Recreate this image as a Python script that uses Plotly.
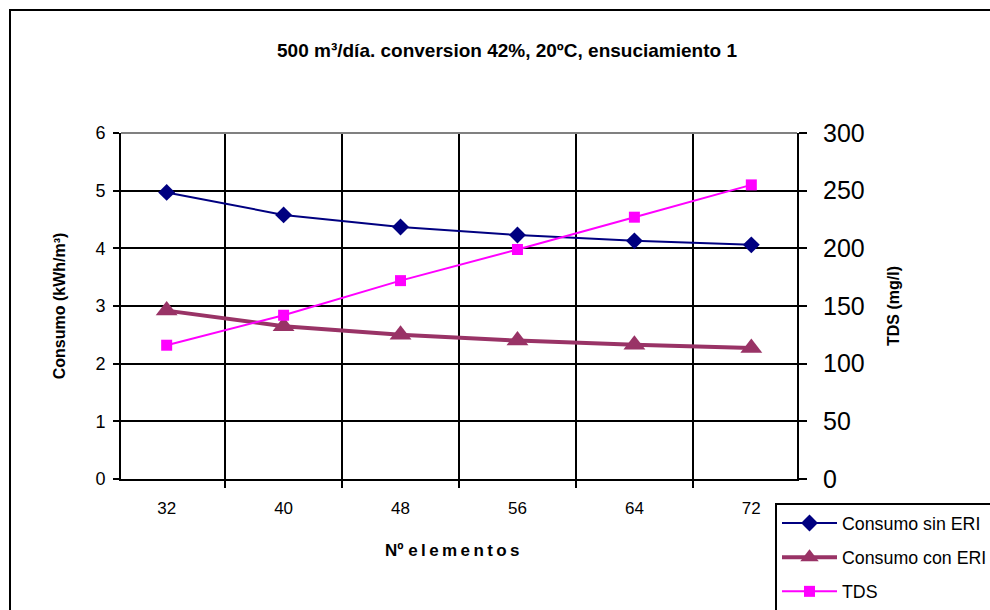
import plotly.graph_objects as go

categories = ["32", "40", "48", "56", "64", "72"]
consumo_sin_eri = [4.97, 4.58, 4.37, 4.23, 4.13, 4.06]
consumo_con_eri = [2.92, 2.65, 2.50, 2.40, 2.33, 2.27]
tds = [116, 142, 172, 199, 227, 255]

fig = go.Figure()
fig.add_trace(go.Scatter(x=categories, y=consumo_sin_eri, name="Consumo sin ERI",
                         mode="lines+markers", legendgroup="a",
                         line=dict(color="#000080", width=2),
                         marker=dict(symbol="diamond", size=13, color="#000080")))
fig.add_trace(go.Scatter(x=categories, y=consumo_con_eri, name="Consumo con ERI",
                         mode="lines+markers", legendgroup="b",
                         line=dict(color="#993366", width=4),
                         marker=dict(symbol="triangle-up", size=19, color="#993366")))
fig.add_trace(go.Scatter(x=categories, y=tds, name="TDS", yaxis="y2",
                         mode="lines+markers", legendgroup="c",
                         line=dict(color="#FF00FF", width=2),
                         marker=dict(symbol="square", size=11, color="#FF00FF")))

fig.update_layout(
    width=990, height=610,
    margin=dict(l=121, r=193, t=133, b=131, autoexpand=False),
    paper_bgcolor="white", plot_bgcolor="white",
    font=dict(family="Liberation Sans, Arial, sans-serif", color="black"),
    title=dict(text="<b>500 m³/día. conversion 42%, 20ºC, ensuciamiento 1</b>",
               x=507 / 990, xanchor="center", y=1 - 50 / 610, yanchor="middle",
               font=dict(size=19)),
    xaxis=dict(type="category", tickson="boundaries", showgrid=True,
               gridcolor="black", gridwidth=2, showline=True, linecolor="black",
               linewidth=2, ticks="outside", ticklen=7, tickwidth=2, tickcolor="black",
               tickfont=dict(size=17), ticklabelstandoff=13),
    yaxis=dict(range=[0, 6], dtick=1, showgrid=True, gridcolor="black", gridwidth=2,
               showline=True, linecolor="black", linewidth=2, ticks="outside",
               ticklen=6, tickwidth=2, tickcolor="black", tickfont=dict(size=18),
               ticklabelstandoff=4, zeroline=False,
               title=dict(text="<b>Consumo (kWh/m³)</b>", font=dict(size=16), standoff=26)),
    yaxis2=dict(range=[0, 300], dtick=50, overlaying="y", side="right",
                showgrid=False, showline=True, linecolor="black", linewidth=2,
                ticks="outside", ticklen=8, tickwidth=2, tickcolor="black",
                tickfont=dict(size=25), ticklabelstandoff=11, zeroline=False,
                title=dict(text="<b>TDS (mg/l)</b>", font=dict(size=16), standoff=24)),
    legend=dict(x=(775 - 121) / 676, y=(479 - 503) / 346, xanchor="left", yanchor="top",
                bordercolor="black", borderwidth=2, bgcolor="white",
                font=dict(size=17.8), traceorder="grouped", tracegroupgap=8,
                itemwidth=55),
    showlegend=True,
)

# x-axis title
fig.add_annotation(text="<b>Nº e\u2009l\u2009e\u2009m\u2009e\u2009n\u2009t\u2009o\u2009s</b>",
                   xref="paper", yref="paper",
                   x=(452 - 121) / 676, y=(479 - 550) / 346,
                   xanchor="center", yanchor="middle", showarrow=False,
                   font=dict(size=17))

# outer chart border (right/bottom edges fall outside the picture)
fig.add_shape(type="rect", xref="paper", yref="paper",
              x0=(10 - 121) / 676, x1=(1100 - 121) / 676,
              y0=(479 - 700) / 346, y1=(479 - 10) / 346,
              line=dict(color="black", width=2), layer="below")
# gray top edge of plot area
fig.add_shape(type="line", xref="paper", yref="paper", x0=0, x1=1, y0=1, y1=1,
              line=dict(color="#808080", width=2))

fig.write_html("out.html")
